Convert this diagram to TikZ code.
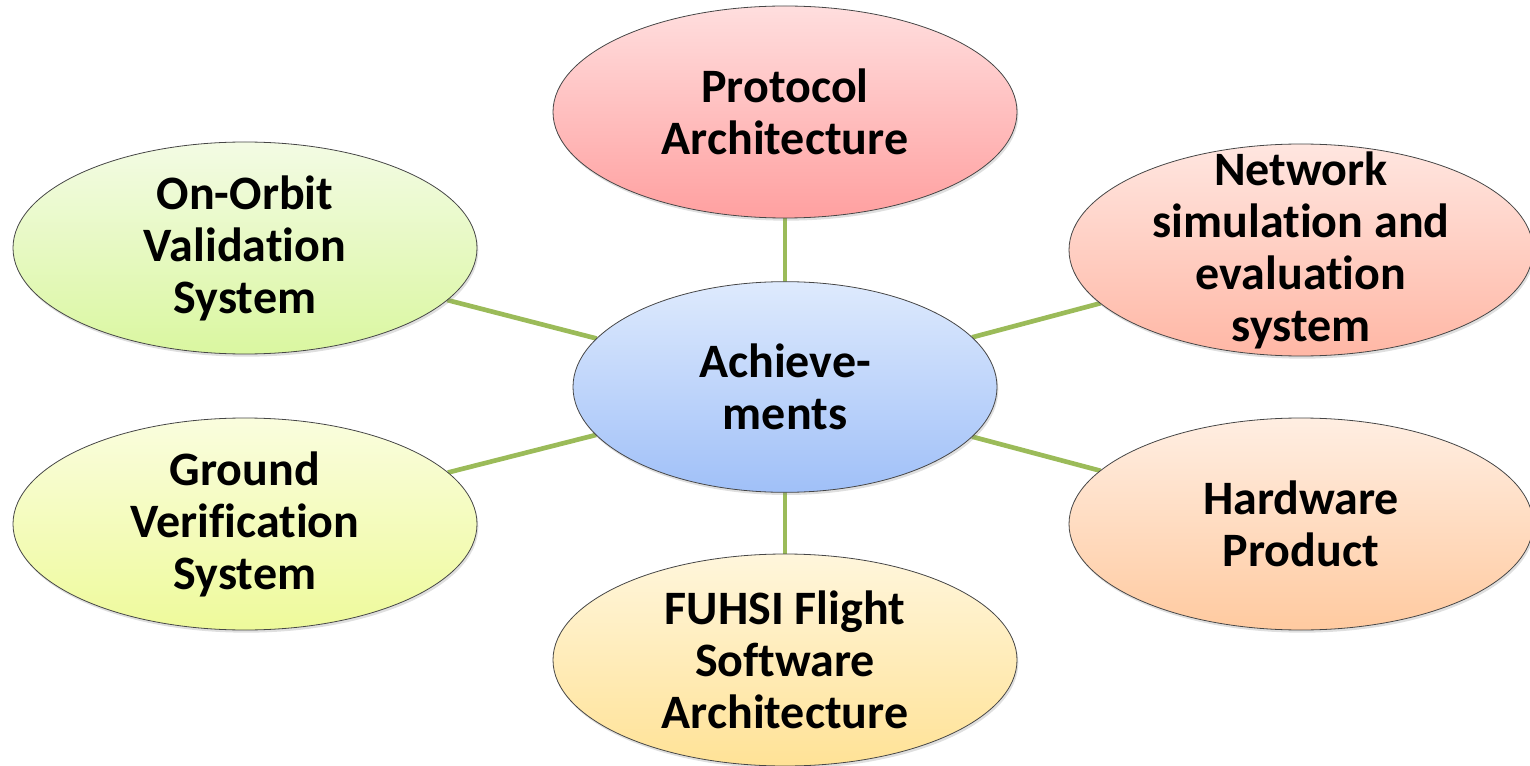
\documentclass[tikz,border=0pt]{standalone}
\usepackage{fontspec}
\setmainfont{Carlito}[Ligatures=CommonOff]
\usetikzlibrary{shapes.geometric,shadows,backgrounds}

\definecolor{linkgreen}{RGB}{155,187,89}
\definecolor{blueTop}{RGB}{222,234,253}
\definecolor{blueBot}{RGB}{160,192,248}
\definecolor{redTop}{RGB}{255,222,222}
\definecolor{redBot}{RGB}{255,160,160}
\definecolor{salTop}{RGB}{255,230,224}
\definecolor{salBot}{RGB}{255,183,165}
\definecolor{orTop}{RGB}{255,238,226}
\definecolor{orBot}{RGB}{255,202,160}
\definecolor{yeTop}{RGB}{255,246,220}
\definecolor{yeBot}{RGB}{255,226,150}
\definecolor{ygTop}{RGB}{250,253,222}
\definecolor{ygBot}{RGB}{238,250,155}
\definecolor{grTop}{RGB}{243,251,228}
\definecolor{grBot}{RGB}{218,247,160}

\tikzset{every picture/.style={line width=0.75pt}}
\tikzset{
  bubble/.style={ellipse, draw={rgb,255:red,70;green,70;blue,70}, line width=0.6pt,
    inner sep=0pt, outer sep=0pt, minimum width=348pt, minimum height=159pt,
    drop shadow={opacity=0.25, shadow xshift=1pt, shadow yshift=-2pt}},
  hub/.style={bubble, minimum width=318pt, minimum height=158pt},
  bubbletext/.style={align=center, font=\fontsize{36}{39}\selectfont\bfseries, inner sep=0pt},
  link/.style={draw=linkgreen, line width=3.5pt}
}

\begin{document}
\begin{tikzpicture}[x=0.75pt,y=0.75pt,yscale=-1,xscale=1]
\useasboundingbox (0,0) rectangle (1530,766);

%Shape: Ellipse [hub]
\node [hub, top color=blueTop, bottom color=blueBot] (ach) at (785,387) {};
%Shape: Ellipse [protocol]
\node [bubble, top color=redTop, bottom color=redBot] (proto) at (785,112) {};
%Shape: Ellipse [network]
\node [bubble, top color=salTop, bottom color=salBot] (netsim) at (1301,250) {};
%Shape: Ellipse [hardware]
\node [bubble, top color=orTop, bottom color=orBot] (hw) at (1301,524) {};
%Shape: Ellipse [flight software]
\node [bubble, top color=yeTop, bottom color=yeBot] (fsw) at (785,660) {};
%Shape: Ellipse [ground]
\node [bubble, top color=ygTop, bottom color=ygBot] (ground) at (245,524) {};
%Shape: Ellipse [on-orbit]
\node [bubble, top color=grTop, bottom color=grBot] (orbit) at (245,248) {};

%Straight Lines
\begin{scope}[on background layer]
\draw [link] (ach) -- (proto);
\draw [link] (ach) -- (netsim);
\draw [link] (ach) -- (hw);
\draw [link] (ach) -- (fsw);
\draw [link] (ach) -- (ground);
\draw [link] (ach) -- (orbit);
\end{scope}

% Text Node
\node [bubbletext] (ach-t) at (ach.center) {Achieve-\\ments};
% Text Node
\node [bubbletext] (proto-t) at (proto.center) {Protocol\\Architecture};
% Text Node
\node [bubbletext] (netsim-t) at (netsim.center) {Network\\simulation and\\evaluation\\system};
% Text Node
\node [bubbletext] (hw-t) at (hw.center) {Hardware\\Product};
% Text Node
\node [bubbletext] (fsw-t) at (fsw.center) {FUHSI Flight\\Software\\Architecture};
% Text Node
\node [bubbletext] (ground-t) at (ground.center) {Ground\\Verification\\System};
% Text Node
\node [bubbletext] (orbit-t) at (orbit.center) {On-Orbit\\Validation\\System};

\end{tikzpicture}
\end{document}
